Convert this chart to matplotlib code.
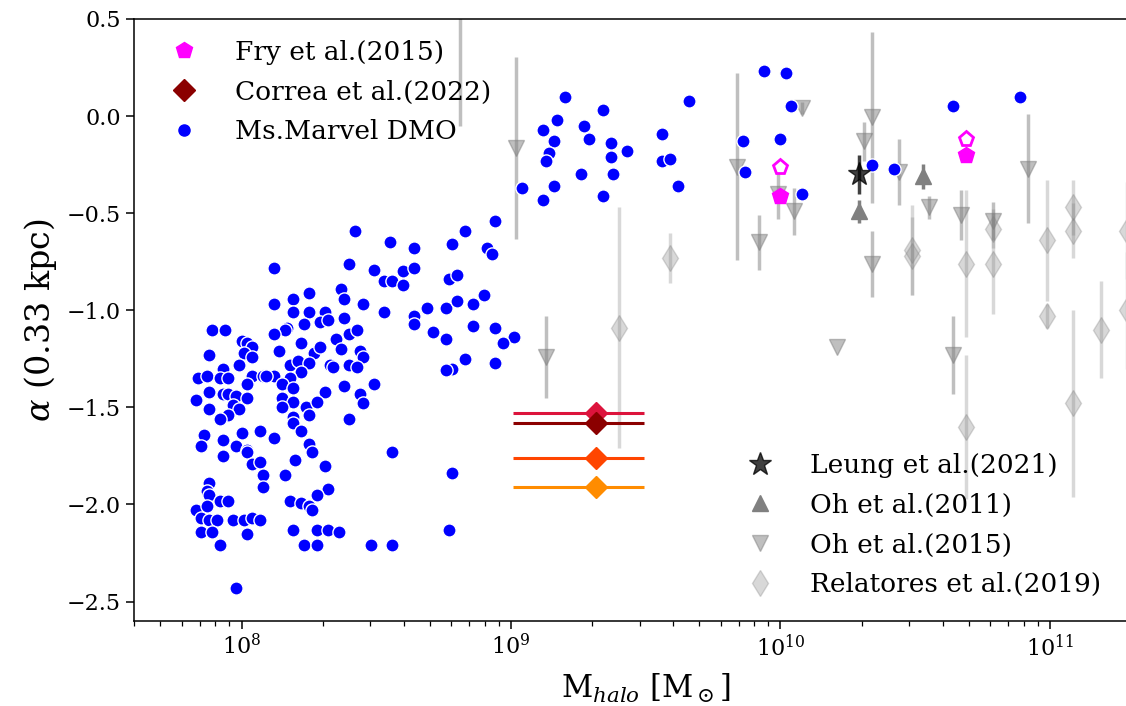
import matplotlib
matplotlib.use("Agg")
import matplotlib.pyplot as plt
from matplotlib.lines import Line2D
import numpy as np

plt.rcParams["font.family"] = "serif"
plt.rcParams["mathtext.fontset"] = "dejavuserif"

# Ms.Marvel DMO haloes: log10(M_halo / Msun) and alpha(0.33 kpc)
dmo_logm = [
    8.12, 8.19, 8.25, 8.12, 8.19, 8.25, 8.31, 8.29, 8.32, 7.89,
    7.94, 8.17, 8.16, 8.23, 8.12, 8.00, 8.02, 8.04, 8.01, 8.22,
    7.88, 8.14, 8.04, 8.27, 8.29, 7.93, 7.99, 8.18, 8.21, 8.25,
    8.33, 7.84, 7.87, 7.92, 7.95, 8.04, 8.08, 8.12, 8.22, 8.18,
    8.02, 8.15, 8.19, 7.88, 7.93, 7.95, 7.98, 7.83, 8.02, 8.15,
    8.19, 8.31, 7.97, 7.99, 7.88, 8.15, 8.24, 8.28, 7.95, 7.92,
    8.19, 8.25, 8.19, 8.22, 7.86, 8.00, 8.07, 7.93, 8.12, 7.85,
    7.98, 8.02, 8.25, 7.93, 8.02, 8.04, 8.07, 8.08, 8.08, 8.16,
    8.20, 8.26, 8.31, 8.32, 7.88, 7.87, 7.88, 7.92, 7.95, 7.83,
    7.87, 7.85, 7.88, 7.91, 7.97, 8.01, 8.04, 8.07, 7.85, 7.89,
    8.02, 7.92, 8.18, 8.22, 8.25, 8.26, 8.28, 8.19, 8.28, 8.32,
    8.23, 8.28, 7.98, 8.36, 8.48, 8.56, 8.56, 8.78, 8.77,
    8.42, 8.55, 8.64, 8.83, 8.94, 8.78, 8.91, 8.93, 8.40, 8.49,
    8.53, 8.56, 8.60, 8.64, 8.60, 8.77, 8.80, 8.37, 8.38, 8.45,
    8.38, 8.53, 8.69, 8.76, 8.80, 8.86, 8.90, 8.64, 8.64, 8.71,
    8.76, 8.86, 8.94, 9.01, 8.97, 8.83, 8.78, 8.76, 8.94, 8.40,
    8.43, 8.35, 8.37, 8.44, 8.45, 8.34, 8.40, 8.43, 8.09, 8.38,
    8.49, 8.44, 8.45, 8.40,
    9.04, 9.20, 9.34, 9.66, 9.17, 9.12, 9.27, 9.56, 9.16, 9.29,
    9.37, 9.43, 9.14, 9.13, 9.37, 9.56, 9.59, 9.26, 9.38, 9.16,
    9.12, 9.34, 9.62, 9.86, 9.87, 9.94, 10.02, 10.04, 10.00, 10.08,
    10.34, 10.42, 10.64, 10.89,
]
dmo_alpha = [
    -0.78, -0.94, -0.91, -0.97, -1.01, -1.01, -1.01, -1.06, -1.05, -1.10,
    -1.10, -1.09, -1.10, -1.07, -1.12, -1.16, -1.17, -1.19, -1.22, -1.17,
    -1.23, -1.21, -1.24, -1.22, -1.19, -1.30, -1.28, -1.28, -1.26, -1.27,
    -1.28, -1.35, -1.34, -1.35, -1.35, -1.34, -1.34, -1.34, -1.32, -1.35,
    -1.38, -1.38, -1.40, -1.42, -1.43, -1.43, -1.44, -1.46, -1.45, -1.45,
    -1.47, -1.42, -1.49, -1.51, -1.51, -1.50, -1.50, -1.47, -1.54, -1.56,
    -1.55, -1.54, -1.58, -1.62, -1.64, -1.63, -1.62, -1.67, -1.66, -1.70,
    -1.70, -1.72, -1.69, -1.75, -1.73, -1.79, -1.78, -1.85, -1.91, -1.85,
    -1.77, -1.73, -1.80, -1.92, -1.89, -1.93, -1.95, -1.98, -1.98, -2.03,
    -2.01, -2.07, -2.08, -2.08, -2.08, -2.08, -2.07, -2.08, -2.14, -2.14,
    -2.15, -2.21, -1.98, -1.99, -2.01, -2.03, -1.95, -2.13, -2.13, -2.13,
    -2.21, -2.21, -2.43, -2.14, -2.21, -2.21, -1.73, -1.84, -2.13,
    -0.59, -0.65, -0.68, -0.59, -0.54, -0.66, -0.68, -0.71, -0.76, -0.79,
    -0.85, -0.85, -0.80, -0.78, -0.87, -0.84, -0.82, -0.89, -0.94, -0.97,
    -1.04, -1.01, -0.99, -0.99, -0.95, -0.97, -0.92, -1.03, -1.07, -1.11,
    -1.15, -1.08, -1.09, -1.14, -1.17, -1.25, -1.30, -1.31, -1.27, -1.12,
    -1.10, -1.15, -1.20, -1.21, -1.24, -1.29, -1.28, -1.29, -1.34, -1.39,
    -1.38, -1.43, -1.48, -1.56,
    -0.37, 0.10, 0.03, 0.08, -0.02, -0.07, -0.05, -0.09, -0.13, -0.12,
    -0.14, -0.18, -0.19, -0.23, -0.21, -0.23, -0.22, -0.30, -0.30, -0.36,
    -0.43, -0.41, -0.36, -0.13, -0.29, 0.23, 0.22, 0.05, -0.12, -0.40,
    -0.25, -0.27, 0.05, 0.10,
]

# Oh et al. (2015)
oh15_logm = [8.81, 9.02, 9.13, 9.84, 9.92, 9.99, 10.05, 10.08, 10.34, 10.31,
             10.44, 10.55, 10.34, 10.67, 10.79, 10.92, 10.21, 10.64]
oh15_alpha = [0.55, -0.165, -1.24, -0.26, -0.65, -0.40, -0.49, 0.04, -0.005, -0.13,
              -0.29, -0.47, -0.76, -0.51, -0.54, -0.27, -1.19, -1.23]
oh15_err = [0.60, 0.47, 0.21, 0.48, 0.14, 0.13, 0.12, 0.03, 0.44, 0.10,
            0.17, 0.06, 0.17, 0.13, 0.10, 0.28, 0.0, 0.20]

# Relatores et al. (2019)
rel_logm = [9.59, 9.40, 10.49, 10.49, 10.69, 10.69, 10.79, 10.79, 10.99, 10.99,
            11.085, 11.085, 11.085, 11.19, 11.285, 11.285]
rel_alpha = [-0.73, -1.09, -0.69, -0.72, -0.76, -1.60, -0.58, -0.76, -0.64, -1.03,
             -0.47, -0.59, -1.48, -1.10, -0.59, -1.00]
rel_err = [0.13, 0.62, 0.23, 0.20, 0.38, 0.37, 0.10, 0.26, 0.31, 0.06,
           0.14, 0.14, 0.48, 0.25, 0.25, 0.30]

# Oh et al. (2011)
oh11_logm = [10.29, 10.53]
oh11_alpha = [-0.49, -0.31]
oh11_err = [0.06, 0.065]

# Leung et al. (2021)
leung_logm = [10.29]
leung_alpha = [-0.30]
leung_err = [0.10]

# Fry et al. (2015): filled and open symbols
fry_mass = [1.0e10, 4.9e10]
fry_alpha_filled = [-0.41, -0.20]
fry_alpha_open = [-0.26, -0.12]

# Correa et al. (2022)
correa_mass = 2.07e9
correa_mass_err = 1.05e9
correa_alpha = [-1.53, -1.58, -1.76, -1.91]
correa_colors = ["crimson", "darkred", "orangered", "darkorange"]

fig = plt.figure(figsize=(11.26, 7.06), dpi=100)
ax = fig.add_axes([0.1193, 0.1204, 0.9083, 0.8527])

ax.errorbar(10 ** np.array(rel_logm), rel_alpha, yerr=rel_err, fmt="d",
            color="grey", alpha=0.3, ms=13, elinewidth=2.5, zorder=1)
ax.errorbar(10 ** np.array(oh15_logm), oh15_alpha, yerr=oh15_err, fmt="v",
            color="grey", alpha=0.5, ms=12, elinewidth=2.5, zorder=2)

ax.scatter(10 ** np.array(dmo_logm), dmo_alpha, s=90, c="blue",
           edgecolors="white", linewidths=1.0, zorder=3)

ax.errorbar(10 ** np.array(oh11_logm), oh11_alpha, yerr=oh11_err, fmt="^",
            color="grey", ms=12, elinewidth=2.5, zorder=4)
ax.errorbar(10 ** np.array(leung_logm), leung_alpha, yerr=leung_err, fmt="*",
            color="k", alpha=0.75, ms=17, elinewidth=2.5, zorder=5)

ax.plot(fry_mass, fry_alpha_filled, "p", color="magenta", ms=12, zorder=6,
        linestyle="none")
ax.plot(fry_mass, fry_alpha_open, "p", mfc="white", mec="magenta", mew=2,
        ms=11, zorder=6, linestyle="none")

for a, c in zip(correa_alpha, correa_colors):
    ax.errorbar(correa_mass, a, xerr=correa_mass_err, fmt="D", color=c,
                ms=11, elinewidth=2.2, zorder=7)

ax.set_xscale("log")
ax.set_xlim(4e7, 2.5e11)
ax.set_ylim(-2.6, 0.5)
ax.set_yticks([-2.5, -2.0, -1.5, -1.0, -0.5, 0.0, 0.5])
ax.tick_params(which="major", labelsize=16, length=6, width=1.1)
ax.tick_params(which="minor", length=3.5, width=0.9)
for sp in ax.spines.values():
    sp.set_linewidth(1.1)

ax.set_xlabel(r"M$_{halo}$ [M$_\odot$]", fontsize=22, labelpad=8)
ax.set_ylabel(r"$\alpha$ (0.33 kpc)", fontsize=24, labelpad=6)

h1 = [
    Line2D([], [], marker="p", color="magenta", ls="none", ms=12),
    Line2D([], [], marker="D", color="darkred", ls="none", ms=11),
    Line2D([], [], marker="o", color="blue", ls="none", ms=8),
]
leg1 = ax.legend(h1, ["Fry et al.(2015)", "Correa et al.(2022)", "Ms.Marvel DMO"],
                 loc="upper left", bbox_to_anchor=(0.0, 1.005), frameon=False,
                 fontsize=19, labelspacing=0.56, handletextpad=0.9)
ax.add_artist(leg1)

h2 = [
    Line2D([], [], marker="*", color="k", alpha=0.75, ls="none", ms=17),
    Line2D([], [], marker="^", color="grey", ls="none", ms=12),
    Line2D([], [], marker="v", color="grey", alpha=0.5, ls="none", ms=12),
    Line2D([], [], marker="d", color="grey", alpha=0.3, ls="none", ms=13),
]
ax.legend(h2, ["Leung et al.(2021)", "Oh et al.(2011)", "Oh et al.(2015)",
               "Relatores et al.(2019)"],
          loc="lower right", bbox_to_anchor=(0.969, 0.0), frameon=False,
          fontsize=19, labelspacing=0.56, handletextpad=0.9)

fig.savefig("out.png", dpi=100)
